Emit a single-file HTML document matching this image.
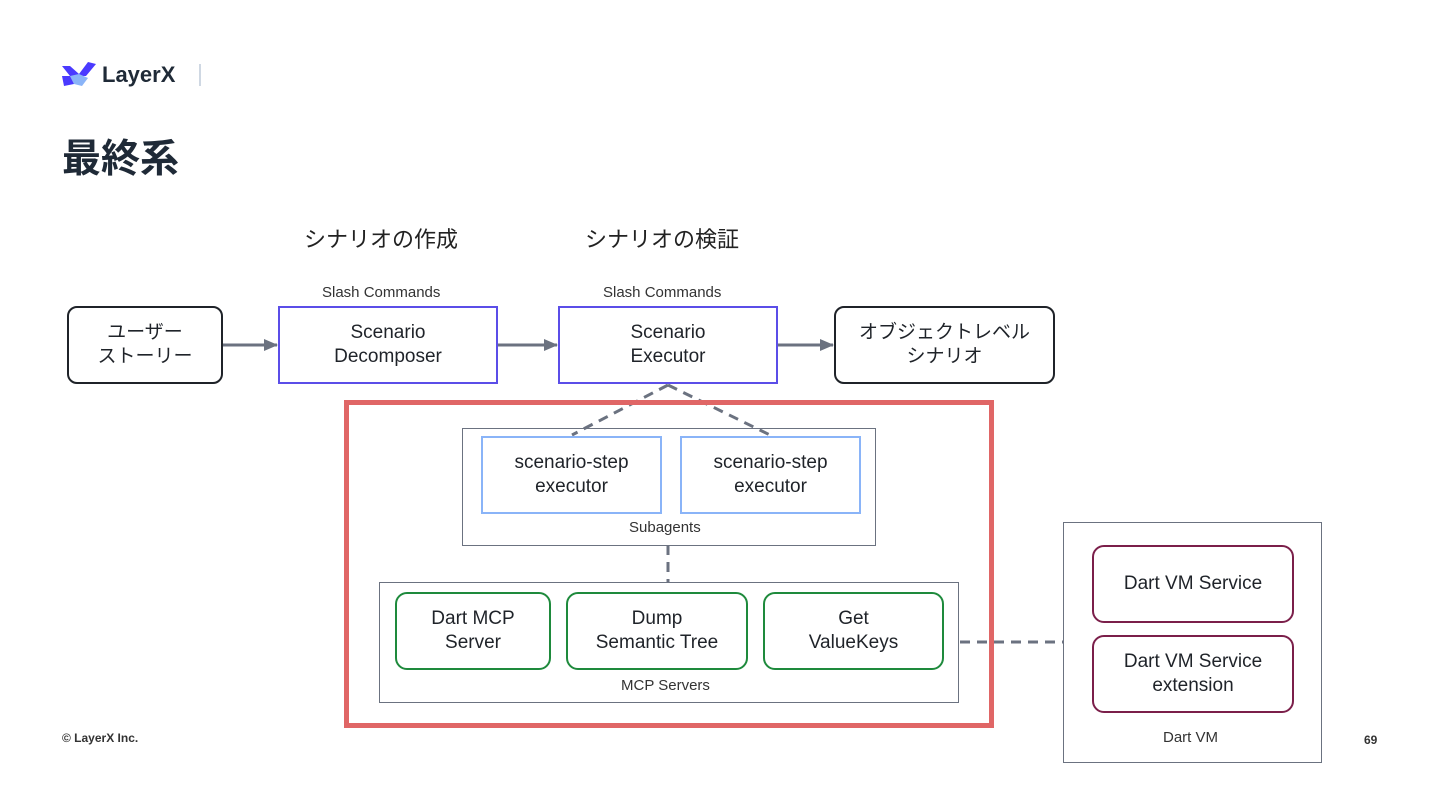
<!DOCTYPE html>
<html><head><meta charset="utf-8"><style>
body{margin:0;width:1440px;height:810px;background:#fff;position:relative;overflow:hidden;font-family:"Liberation Sans","Noto Sans CJK JP",sans-serif;color:#1f2a37}
.b{position:absolute;box-sizing:border-box;display:flex;align-items:center;justify-content:center;text-align:center;font-size:19px;line-height:24px;color:#1f2329}
.t{position:absolute;white-space:nowrap}
</style></head><body>
<svg style="position:absolute;left:62px;top:62px" width="34" height="28" viewBox="0 0 34 28">
<polygon points="0,4 8,4 17,12 26,0 34,2 24,14 8,14" fill="#4a3aff"/>
<polygon points="8,14 17,12 26,16 20,24 12,22" fill="#8ab4f8"/>
<polygon points="0,14 8,14 12,22 2,24" fill="#4a3aff"/>
</svg>
<div class="t" style="left:102px;top:62px;font-size:22px;font-weight:bold;color:#1f2a37">LayerX</div>
<div style="position:absolute;left:199px;top:64px;width:2px;height:22px;background:#cfd8e3"></div>
<div class="t" style="left:62px;top:128px;font-size:39px;font-weight:bold;color:#1f2a37">最終系</div>
<div class="t" style="left:304px;top:222px;font-size:22px;color:#222">シナリオの作成</div>
<div class="t" style="left:585px;top:222px;font-size:22px;color:#222">シナリオの検証</div>
<div class="t" style="left:322px;top:284px;font-size:15px;color:#333">Slash Commands</div>
<div class="t" style="left:603px;top:284px;font-size:15px;color:#333">Slash Commands</div>
<div style="position:absolute;left:462px;top:428px;width:414px;height:118px;box-sizing:border-box;border:1.5px solid #6b7280"></div>
<svg style="position:absolute;left:0;top:0" width="1440" height="810">
<defs><marker id="a" markerWidth="14" markerHeight="14" refX="13" refY="7" orient="auto" markerUnits="userSpaceOnUse"><polygon points="0,1 14,7 0,13" fill="#6b7280"/></marker></defs>
<g stroke="#6b7280" stroke-width="3" fill="none">
<line x1="222" y1="345" x2="277" y2="345" marker-end="url(#a)"/>
<line x1="497" y1="345" x2="557" y2="345" marker-end="url(#a)"/>
<line x1="777" y1="345" x2="833" y2="345" marker-end="url(#a)"/>
<g stroke-dasharray="10,7">
<line x1="668" y1="385" x2="572" y2="435"/>
<line x1="668" y1="385" x2="770" y2="435"/>
<line x1="668" y1="545" x2="668" y2="582"/>
<line x1="960" y1="642" x2="1063" y2="642"/>
</g></g></svg>
<div class="b" style="left:67px;top:306px;width:156px;height:78px;border:2.5px solid #1f2329;border-radius:10px">ユーザー<br>ストーリー</div>
<div class="b" style="left:278px;top:306px;width:220px;height:78px;border:2px solid #5b4ee8">Scenario<br>Decomposer</div>
<div class="b" style="left:558px;top:306px;width:220px;height:78px;border:2px solid #5b4ee8">Scenario<br>Executor</div>
<div class="b" style="left:834px;top:306px;width:221px;height:78px;border:2.5px solid #1f2329;border-radius:10px">オブジェクトレベル<br>シナリオ</div>
<div style="position:absolute;left:344px;top:400px;width:650px;height:328px;box-sizing:border-box;border:5px solid #e06666"></div>
<div class="t" style="left:629px;top:519px;font-size:15px;color:#333">Subagents</div>
<div class="b" style="left:481px;top:436px;width:181px;height:78px;border:2.5px solid #8ab4f8;background:#fff">scenario-step<br>executor</div>
<div class="b" style="left:680px;top:436px;width:181px;height:78px;border:2.5px solid #8ab4f8;background:#fff">scenario-step<br>executor</div>
<div style="position:absolute;left:379px;top:582px;width:580px;height:121px;box-sizing:border-box;border:1.5px solid #6b7280"></div>
<div class="t" style="left:621px;top:677px;font-size:15px;color:#333">MCP Servers</div>
<div class="b" style="left:395px;top:592px;width:156px;height:78px;border:2.5px solid #1e8a3c;border-radius:12px">Dart MCP<br>Server</div>
<div class="b" style="left:566px;top:592px;width:182px;height:78px;border:2.5px solid #1e8a3c;border-radius:12px">Dump<br>Semantic Tree</div>
<div class="b" style="left:763px;top:592px;width:181px;height:78px;border:2.5px solid #1e8a3c;border-radius:12px">Get<br>ValueKeys</div>
<div style="position:absolute;left:1063px;top:522px;width:259px;height:241px;box-sizing:border-box;border:1.5px solid #6b7280"></div>
<div class="b" style="left:1092px;top:545px;width:202px;height:78px;border:2.5px solid #7b1f4a;border-radius:12px">Dart VM Service</div>
<div class="b" style="left:1092px;top:635px;width:202px;height:78px;border:2.5px solid #7b1f4a;border-radius:12px">Dart VM Service<br>extension</div>
<div class="t" style="left:1163px;top:729px;font-size:15px;color:#333">Dart VM</div>
<div class="t" style="left:62px;top:731px;font-size:12px;font-weight:bold;color:#333">© LayerX Inc.</div>
<div class="t" style="left:1364px;top:733px;font-size:12px;font-weight:bold;color:#333">69</div>
</body></html>
